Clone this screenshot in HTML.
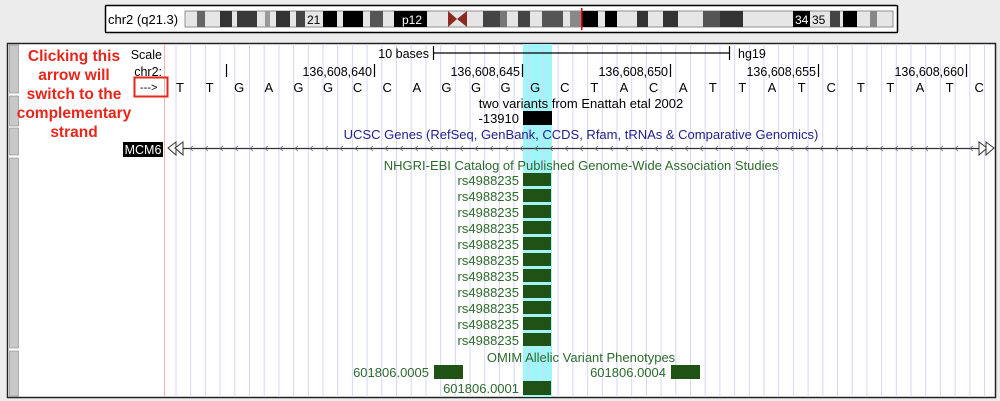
<!DOCTYPE html>
<html><head><meta charset="utf-8"><style>
body{margin:0;background:#ececec;}
svg{display:block;font-family:"Liberation Sans",Arial,sans-serif;}
</style></head><body>
<svg width="1000" height="401" viewBox="0 0 1000 401" xmlns="http://www.w3.org/2000/svg">
<rect width="1000" height="401" fill="#ececec"/>
<rect x="105.5" y="5.5" width="792" height="27" fill="#fff" stroke="#000" stroke-width="1.5" rx="1"/>
<text x="108" y="24" font-size="13" fill="#000">chr2 (q21.3)</text>
<g stroke="none">
<rect x="185" y="11" width="708" height="16" fill="#e6e6e6" stroke="#777" stroke-width="0.8"/>
<rect x="197" y="11" width="8" height="16" fill="#666"/>
<rect x="220" y="11" width="12" height="16" fill="#333"/>
<rect x="237" y="11" width="20" height="16" fill="#3a3a3a"/>
<rect x="265" y="11" width="5" height="16" fill="#999"/>
<rect x="276" y="11" width="14" height="16" fill="#333"/>
<rect x="296" y="11" width="9" height="16" fill="#444"/>
<rect x="323" y="11" width="14" height="16" fill="#000"/>
<rect x="343" y="11" width="20" height="16" fill="#000"/>
<rect x="370" y="11" width="13" height="16" fill="#555"/>
<rect x="394" y="11" width="33" height="16" fill="#000"/>
<polygon points="448,11 457,19 448,27" fill="#8b2a25"/>
<polygon points="467,11 457,19 467,27" fill="#8b2a25"/>
<rect x="483" y="11" width="17" height="16" fill="#444"/>
<rect x="500" y="11" width="7" height="16" fill="#777"/>
<rect x="518" y="11" width="12" height="16" fill="#444"/>
<rect x="542" y="11" width="21" height="16" fill="#555"/>
<rect x="570" y="11" width="12" height="16" fill="#888"/>
<rect x="582" y="11" width="16" height="16" fill="#000"/>
<rect x="605" y="11" width="12" height="16" fill="#000"/>
<rect x="637" y="11" width="11" height="16" fill="#333"/>
<rect x="663" y="11" width="15" height="16" fill="#333"/>
<rect x="703" y="11" width="17" height="16" fill="#555"/>
<rect x="720" y="11" width="23" height="16" fill="#333"/>
<rect x="793" y="11" width="17" height="16" fill="#000"/>
<rect x="830" y="11" width="10" height="16" fill="#444"/>
<rect x="843" y="11" width="14" height="16" fill="#000"/>
<rect x="870" y="11" width="7" height="16" fill="#888"/>
</g>
<text x="307" y="24" font-size="12" fill="#000">21</text>
<text x="402" y="24" font-size="12" fill="#fff">p12</text>
<text x="795" y="24" font-size="12" fill="#fff">34</text>
<text x="812" y="24" font-size="12" fill="#000">35</text>
<rect x="581" y="8" width="1.5" height="22" fill="#e00"/>
<rect x="7.5" y="43.5" width="988" height="354" fill="#fff" stroke="#222" stroke-width="1.5"/>
<g fill="#c8c8c8" stroke="#888" stroke-width="0.6">
<rect x="9.5" y="45" width="9" height="48"/>
<rect x="9.5" y="96" width="9" height="30"/>
<rect x="9.5" y="128" width="9" height="27"/>
<rect x="9.5" y="158" width="9" height="190"/>
<rect x="9.5" y="351" width="9" height="45"/>
</g>
<rect x="523" y="44" width="29" height="353" fill="#9ff5f8"/>
<g stroke="#d6d6fb" stroke-width="1">
<line x1="176" y1="44" x2="176" y2="397"/><line x1="190.7" y1="44" x2="190.7" y2="397"/><line x1="205.4" y1="44" x2="205.4" y2="397"/><line x1="220.1" y1="44" x2="220.1" y2="397"/><line x1="234.8" y1="44" x2="234.8" y2="397"/><line x1="249.5" y1="44" x2="249.5" y2="397"/><line x1="264.2" y1="44" x2="264.2" y2="397"/><line x1="278.9" y1="44" x2="278.9" y2="397"/><line x1="293.6" y1="44" x2="293.6" y2="397"/><line x1="308.3" y1="44" x2="308.3" y2="397"/><line x1="323" y1="44" x2="323" y2="397"/><line x1="337.7" y1="44" x2="337.7" y2="397"/><line x1="352.4" y1="44" x2="352.4" y2="397"/><line x1="367.1" y1="44" x2="367.1" y2="397"/><line x1="381.8" y1="44" x2="381.8" y2="397"/><line x1="396.5" y1="44" x2="396.5" y2="397"/><line x1="411.2" y1="44" x2="411.2" y2="397"/><line x1="425.9" y1="44" x2="425.9" y2="397"/><line x1="440.6" y1="44" x2="440.6" y2="397"/><line x1="455.3" y1="44" x2="455.3" y2="397"/><line x1="470" y1="44" x2="470" y2="397"/><line x1="484.7" y1="44" x2="484.7" y2="397"/><line x1="499.4" y1="44" x2="499.4" y2="397"/><line x1="514.1" y1="44" x2="514.1" y2="397"/><line x1="528.8" y1="44" x2="528.8" y2="397"/><line x1="543.5" y1="44" x2="543.5" y2="397"/><line x1="558.2" y1="44" x2="558.2" y2="397"/><line x1="572.9" y1="44" x2="572.9" y2="397"/><line x1="587.6" y1="44" x2="587.6" y2="397"/><line x1="602.3" y1="44" x2="602.3" y2="397"/><line x1="617" y1="44" x2="617" y2="397"/><line x1="631.7" y1="44" x2="631.7" y2="397"/><line x1="646.4" y1="44" x2="646.4" y2="397"/><line x1="661.1" y1="44" x2="661.1" y2="397"/><line x1="675.8" y1="44" x2="675.8" y2="397"/><line x1="690.5" y1="44" x2="690.5" y2="397"/><line x1="705.2" y1="44" x2="705.2" y2="397"/><line x1="719.9" y1="44" x2="719.9" y2="397"/><line x1="734.6" y1="44" x2="734.6" y2="397"/><line x1="749.3" y1="44" x2="749.3" y2="397"/><line x1="764" y1="44" x2="764" y2="397"/><line x1="778.7" y1="44" x2="778.7" y2="397"/><line x1="793.4" y1="44" x2="793.4" y2="397"/><line x1="808.1" y1="44" x2="808.1" y2="397"/><line x1="822.8" y1="44" x2="822.8" y2="397"/><line x1="837.5" y1="44" x2="837.5" y2="397"/><line x1="852.2" y1="44" x2="852.2" y2="397"/><line x1="866.9" y1="44" x2="866.9" y2="397"/><line x1="881.6" y1="44" x2="881.6" y2="397"/><line x1="896.3" y1="44" x2="896.3" y2="397"/><line x1="911" y1="44" x2="911" y2="397"/><line x1="925.7" y1="44" x2="925.7" y2="397"/><line x1="940.4" y1="44" x2="940.4" y2="397"/><line x1="955.1" y1="44" x2="955.1" y2="397"/><line x1="969.8" y1="44" x2="969.8" y2="397"/><line x1="984.5" y1="44" x2="984.5" y2="397"/>
</g>
<line x1="164.5" y1="44" x2="164.5" y2="397" stroke="#f6b0b0" stroke-width="1"/>
<g font-size="15.5" font-weight="bold" fill="#e8251a" text-anchor="middle">
<text x="74" y="61">Clicking this</text>
<text x="74" y="80">arrow will</text>
<text x="74" y="99">switch to the</text>
<text x="74" y="118">complementary</text>
<text x="74" y="137">strand</text>
</g>
<rect x="134.5" y="77.5" width="33" height="19" fill="none" stroke="#e8251a" stroke-width="2"/>
<text x="140" y="91" font-size="11" fill="#000">---&gt;</text>
<g font-size="12.5" fill="#000">
<text x="162" y="59" text-anchor="end">Scale</text>
<text x="162" y="76" text-anchor="end">chr2:</text>
<text x="429" y="58" text-anchor="end">10 bases</text>
<text x="738" y="58">hg19</text>
<text x="372" y="76" text-anchor="end">136,608,640</text>
<text x="520" y="76" text-anchor="end">136,608,645</text>
<text x="668" y="76" text-anchor="end">136,608,650</text>
<text x="816" y="76" text-anchor="end">136,608,655</text>
<text x="964" y="76" text-anchor="end">136,608,660</text>
</g>
<g stroke="#000" stroke-width="1.2">
<line x1="433" y1="53" x2="729" y2="53"/><line x1="433.5" y1="46" x2="433.5" y2="60"/><line x1="729.5" y1="46" x2="729.5" y2="60"/>
<line x1="226.5" y1="64" x2="226.5" y2="77"/><line x1="374.5" y1="64" x2="374.5" y2="77"/><line x1="522.5" y1="64" x2="522.5" y2="77"/><line x1="670.5" y1="64" x2="670.5" y2="77"/><line x1="818.5" y1="64" x2="818.5" y2="77"/><line x1="966.5" y1="64" x2="966.5" y2="77"/>
</g>
<g font-size="13" fill="#000" text-anchor="middle">
<text x="180" y="92">T</text><text x="209.6" y="92">T</text><text x="239.2" y="92">G</text><text x="268.8" y="92">A</text><text x="298.4" y="92">G</text><text x="328" y="92">G</text><text x="357.6" y="92">C</text><text x="387.2" y="92">C</text><text x="416.8" y="92">A</text><text x="446.4" y="92">G</text><text x="476" y="92">G</text><text x="505.6" y="92">G</text><text x="535.2" y="92">G</text><text x="564.8" y="92">C</text><text x="594.4" y="92">T</text><text x="624" y="92">A</text><text x="653.6" y="92">C</text><text x="683.2" y="92">A</text><text x="712.8" y="92">T</text><text x="742.4" y="92">T</text><text x="772" y="92">A</text><text x="801.6" y="92">T</text><text x="831.2" y="92">C</text><text x="860.8" y="92">T</text><text x="890.4" y="92">T</text><text x="920" y="92">A</text><text x="949.6" y="92">T</text><text x="979.2" y="92">C</text>
</g>
<text x="581" y="108" font-size="13" fill="#000" text-anchor="middle">two variants from Enattah etal 2002</text>
<text x="519" y="123" font-size="13" fill="#000" text-anchor="end">-13910</text>
<rect x="523" y="111" width="29" height="14" fill="#000"/>
<text x="581" y="139" font-size="13" fill="#22228a" text-anchor="middle">UCSC Genes (RefSeq, GenBank, CCDS, Rfam, tRNAs &amp; Comparative Genomics)</text>
<rect x="123" y="142" width="40" height="15" fill="#000"/>
<text x="143" y="154" font-size="12.5" fill="#fff" text-anchor="middle">MCM6</text>
<line x1="172" y1="148.5" x2="983" y2="148.5" stroke="#333" stroke-width="1.2"/>
<g fill="#fff" stroke="#333" stroke-width="1">
<polygon points="168,148 176,142 176,155"/><polygon points="175,148 183,142 183,155"/>
<polygon points="987,148 979,142 979,155"/><polygon points="994,148 986,142 986,155"/>
</g>
<g stroke="#666" stroke-width="0.8" fill="none">
<path d="M193,146 l-3,2.5 l3,2.5 M208,146 l-3,2.5 l3,2.5 M223,146 l-3,2.5 l3,2.5 M238,146 l-3,2.5 l3,2.5 M253,146 l-3,2.5 l3,2.5 M268,146 l-3,2.5 l3,2.5 M283,146 l-3,2.5 l3,2.5 M298,146 l-3,2.5 l3,2.5 M313,146 l-3,2.5 l3,2.5 M328,146 l-3,2.5 l3,2.5 M343,146 l-3,2.5 l3,2.5 M358,146 l-3,2.5 l3,2.5 M373,146 l-3,2.5 l3,2.5 M388,146 l-3,2.5 l3,2.5 M403,146 l-3,2.5 l3,2.5 M418,146 l-3,2.5 l3,2.5 M433,146 l-3,2.5 l3,2.5 M448,146 l-3,2.5 l3,2.5 M463,146 l-3,2.5 l3,2.5 M478,146 l-3,2.5 l3,2.5 M493,146 l-3,2.5 l3,2.5 M508,146 l-3,2.5 l3,2.5 M523,146 l-3,2.5 l3,2.5 M538,146 l-3,2.5 l3,2.5 M553,146 l-3,2.5 l3,2.5 M568,146 l-3,2.5 l3,2.5 M583,146 l-3,2.5 l3,2.5 M598,146 l-3,2.5 l3,2.5 M613,146 l-3,2.5 l3,2.5 M628,146 l-3,2.5 l3,2.5 M643,146 l-3,2.5 l3,2.5 M658,146 l-3,2.5 l3,2.5 M673,146 l-3,2.5 l3,2.5 M688,146 l-3,2.5 l3,2.5 M703,146 l-3,2.5 l3,2.5 M718,146 l-3,2.5 l3,2.5 M733,146 l-3,2.5 l3,2.5 M748,146 l-3,2.5 l3,2.5 M763,146 l-3,2.5 l3,2.5 M778,146 l-3,2.5 l3,2.5 M793,146 l-3,2.5 l3,2.5 M808,146 l-3,2.5 l3,2.5 M823,146 l-3,2.5 l3,2.5 M838,146 l-3,2.5 l3,2.5 M853,146 l-3,2.5 l3,2.5 M868,146 l-3,2.5 l3,2.5 M883,146 l-3,2.5 l3,2.5 M898,146 l-3,2.5 l3,2.5 M913,146 l-3,2.5 l3,2.5 M928,146 l-3,2.5 l3,2.5 M943,146 l-3,2.5 l3,2.5 M958,146 l-3,2.5 l3,2.5 M973,146 l-3,2.5 l3,2.5"/>
</g>
<text x="581" y="170" font-size="13" fill="#2d6a2d" text-anchor="middle">NHGRI-EBI Catalog of Published Genome-Wide Association Studies</text>
<g font-size="13" fill="#2d6a2d" text-anchor="end">
<text x="519" y="185">rs4988235</text><text x="519" y="201">rs4988235</text><text x="519" y="217">rs4988235</text><text x="519" y="233">rs4988235</text><text x="519" y="249">rs4988235</text><text x="519" y="265">rs4988235</text><text x="519" y="281">rs4988235</text><text x="519" y="297">rs4988235</text><text x="519" y="313">rs4988235</text><text x="519" y="329">rs4988235</text><text x="519" y="345">rs4988235</text>
</g>
<g fill="#1f5214">
<rect x="523" y="173" width="28" height="13"/><rect x="523" y="189" width="28" height="13"/><rect x="523" y="205" width="28" height="13"/><rect x="523" y="221" width="28" height="13"/><rect x="523" y="237" width="28" height="13"/><rect x="523" y="253" width="28" height="13"/><rect x="523" y="269" width="28" height="13"/><rect x="523" y="285" width="28" height="13"/><rect x="523" y="301" width="28" height="13"/><rect x="523" y="317" width="28" height="13"/><rect x="523" y="333" width="28" height="13"/>
<rect x="434" y="365" width="29" height="14"/><rect x="671" y="365" width="29" height="14"/><rect x="523" y="381" width="28" height="14"/>
</g>
<text x="581" y="362" font-size="13" fill="#2d6a2d" text-anchor="middle">OMIM Allelic Variant Phenotypes</text>
<g font-size="13" fill="#2d6a2d" text-anchor="end">
<text x="429" y="377">601806.0005</text><text x="666" y="377">601806.0004</text><text x="519" y="393">601806.0001</text>
</g>
</svg>
</body></html>
